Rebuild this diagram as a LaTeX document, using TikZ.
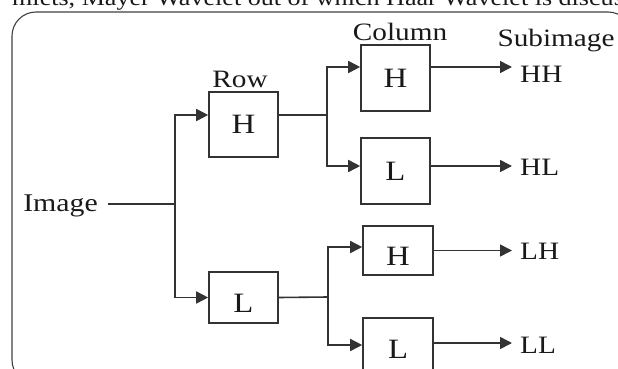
\documentclass[tikz,border=0pt]{standalone}
\usepackage{fontspec}
\setmainfont{Liberation Serif}[FakeStretch=1.17]
\usetikzlibrary{arrows.meta}

\tikzset{
  wire/.style={draw=black!80, line width=1.6pt},
  arr/.style={wire, -{Triangle[length=12pt,width=12pt]}},
  filt/.style={draw=black!80, line width=1.6pt, inner sep=0pt,
               minimum width=69pt, font=\fontsize{28}{32}\selectfont, text=black!90},
  lbl/.style={inner sep=0pt, font=\fontsize{25}{30}\selectfont, text=black!90},
  outlbl/.style={lbl, inner xsep=8pt},
}

\begin{document}
\begin{tikzpicture}[x=1pt, y=-1pt]
  \useasboundingbox (0,0) rectangle (618,369);
  \clip (0,0) rectangle (618,369);

  % running text of the page above the figure
  \node[lbl, anchor=base west, font=\fontsize{22.3}{26}\selectfont] (pagetext) at (12,6)
    {mlets, Mayer Wavelet out of which Haar Wavelet is discuss};

  % rounded frame
  \draw[black!75, line width=1.1pt, rounded corners=24pt]
    (12,12) rectangle (632,384);

  % column headings
  \node[lbl, anchor=base] (hrow) at (240,87) {Row};
  \node[lbl, anchor=base] (hcol) at (400,41) {Column};
  \node[lbl, anchor=base] (hsub) at (556,47) {Subimage};

  % input
  \node[lbl, anchor=base east, inner xsep=10pt, font=\fontsize{25.5}{30}\selectfont] (img) at (108,211) {Image};

  % row filters
  \node[filt, minimum height=65pt] (rowH) at (243.5,124.5) {H};
  \node[filt, minimum height=51pt, text height=29pt, text depth=0pt] (rowL) at (243.5,297.5) {L};

  % column filters
  \node[filt, minimum height=66pt] (colHH) at (395.5,78) {H};
  \node[filt, minimum height=66pt] (colHL) at (395.5,171) {L};
  \node[filt, minimum width=70pt, minimum height=49pt, text height=29pt, text depth=0pt] (colLH) at (398,250.5) {H};
  \node[filt, minimum width=70pt, minimum height=62pt] (colLL) at (398,349) {L};

  % subimages
  \node[outlbl, anchor=base west] (HH) at (512,82) {HH};
  \node[outlbl, anchor=base west] (HL) at (512,175) {HL};
  \node[outlbl, anchor=base west] (LH) at (512,259) {LH};
  \node[outlbl, anchor=base west] (LL) at (512,353) {LL};

  % branch points
  \coordinate (b0) at (175,204);
  \coordinate (b1) at (327,115);
  \coordinate (b2) at (328,297);

  % image to row filters
  \draw[wire] (img.east |- b0) -- (b0);
  \draw[arr] (b0) |- ([yshift=9.5pt]rowH.west);
  \draw[arr] (b0) |- (rowL.west);

  % row H to column filters
  \draw[wire] ([yshift=9.5pt]rowH.east) -- (b1);
  \draw[arr] (b1) |- ([yshift=11pt]colHH.west);
  \draw[arr] (b1) |- ([yshift=5pt]colHL.west);

  % row L to column filters
  \draw[wire] (rowL.east) -- (b2);
  \draw[arr] (b2) |- ([yshift=3.5pt]colLH.west);
  \draw[arr] (b2) |- ([yshift=4pt]colLL.west);

  % column filters to subimages
  \draw[arr] ([yshift=11pt]colHH.east) -- ([yshift=11pt]colHH.east -| HH.west);
  \draw[arr] ([yshift=5pt]colHL.east) -- ([yshift=5pt]colHL.east -| HL.west);
  \draw[arr] (colLH.east) -- (colLH.east -| LH.west);
  \draw[arr] ([yshift=6pt]colLL.east) -- ([yshift=6pt]colLL.east -| LL.west);
\end{tikzpicture}
\end{document}
